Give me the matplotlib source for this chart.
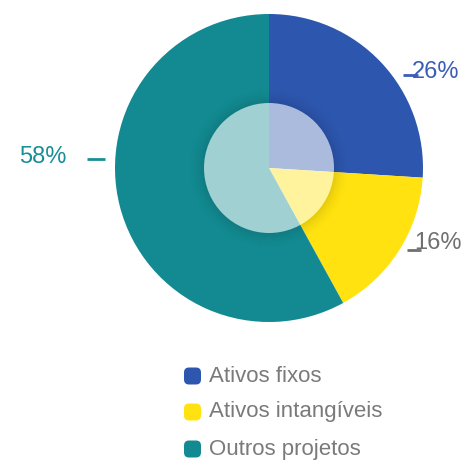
import matplotlib
matplotlib.use('Agg')
import matplotlib.pyplot as plt
from matplotlib.patches import Circle, Wedge, FancyBboxPatch

# dados
categorias = ['Ativos fixos', 'Ativos intangíveis', 'Outros projetos']
valores = [26, 16, 58]
rotulos = ['26%', '16%', '58%']
cores = ['#2D56AE', '#FFE20F', '#138A91']
cores_rotulo = ['#3A5DB5', '#707070', '#1A8E96']

plt.rcParams['font.family'] = ['Liberation Sans', 'DejaVu Sans']

W, H = 467, 468
fig = plt.figure(figsize=(W / 100, H / 100), dpi=100)
ax = fig.add_axes([0, 0, 1, 1])

cx, cy, r = 269, H - 168, 154
ax.pie(valores, colors=cores, startangle=90, counterclock=False,
       center=(cx, cy), radius=r, frame=True,
       wedgeprops=dict(linewidth=0))
ax.set_xlim(0, W)
ax.set_ylim(0, H)
ax.set_aspect('equal')
ax.axis('off')

# sombra suave em volta do círculo interno (anéis)
r_in = 65
n = 16
for i in range(n):
    a = 0.10 * (1 - i / n) ** 2
    ax.add_patch(Wedge((cx, cy), r_in + i + 1, 0, 360, width=1,
                       facecolor='black', alpha=a, linewidth=0, zorder=3))
ax.add_patch(Circle((cx, cy), r_in, facecolor='white', alpha=0.6,
                    linewidth=0, zorder=4))

# rótulos com traço
pos_txt = [(412, H - 72), (414, H - 243), (19, H - 157)]
tracos = [((403, 418), H - 75), ((407, 421), H - 250), ((87, 105), H - 159)]
for (tx, ty), ((x0, x1), ly), lab, c in zip(pos_txt, tracos, rotulos, cores_rotulo):
    ax.plot([x0, x1], [ly, ly], color=c, lw=2, solid_capstyle='butt', zorder=5)
    ax.text(tx, ty, lab, color=c, fontsize=17, ha='left', va='center', zorder=6)

# legenda
leg_y = [376, 412, 449]
for yy, nome, c in zip(leg_y, categorias, cores):
    ax.add_patch(FancyBboxPatch((184, H - yy - 8.5), 17, 17,
                                boxstyle='round,pad=0,rounding_size=5',
                                facecolor=c, linewidth=0))
    ax.text(209, H - yy, nome, color='#7A7A7A', fontsize=16,
            ha='left', va='center')

fig.savefig('out.png', dpi=100, facecolor='white')
